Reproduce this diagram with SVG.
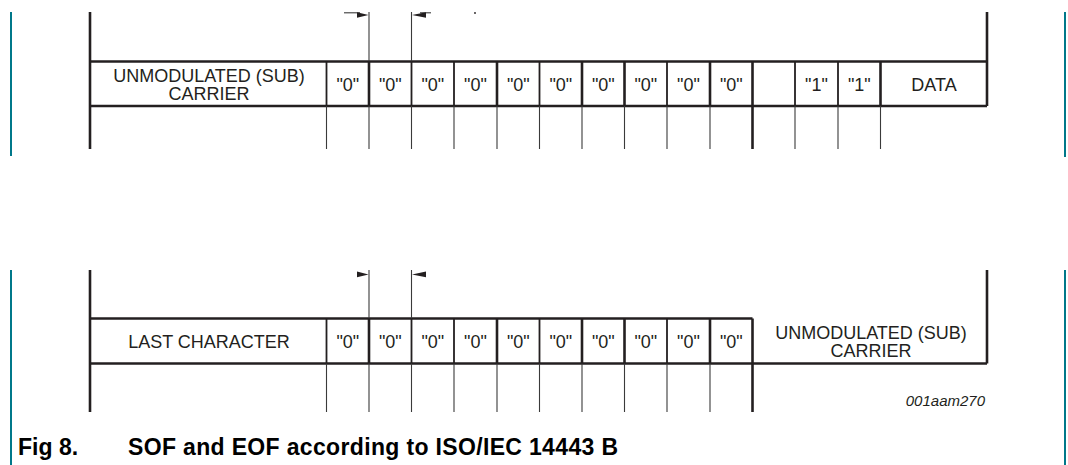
<svg xmlns="http://www.w3.org/2000/svg" width="1068" height="465" viewBox="0 0 1068 465">
<style>
.bg{fill:#ffffff}
.teal{stroke:#00788a;stroke-width:2;fill:none}
.thick{stroke:#231f20;stroke-width:2.6;fill:none}
.mid{stroke:#231f20;stroke-width:1.8;fill:none}
.thin{stroke:#3a3a3a;stroke-width:1.1;fill:none}
.lbl{font-family:"Liberation Sans",Arial,sans-serif;font-size:18px;fill:#231f20;text-anchor:middle}
.code{font-family:"Liberation Sans",Arial,sans-serif;font-size:15px;font-style:italic;fill:#231f20;text-anchor:end}
.cap{font-family:"Liberation Sans",Arial,sans-serif;font-size:23px;font-weight:bold;fill:#000}
.ah{fill:#231f20;stroke:none}
</style>
<rect class="bg" x="0" y="0" width="1068" height="465"/>
<g id="frame">
<line class="teal" x1="11" y1="12" x2="11" y2="156"/>
<line class="teal" x1="1065" y1="12" x2="1065" y2="157"/>
<line class="teal" x1="11" y1="270" x2="11" y2="465"/>
<line class="teal" x1="1065" y1="270" x2="1065" y2="465"/>
</g>
<g id="sof">
<g id="sof-grid">
<line class="thick" x1="90" y1="12" x2="90" y2="149"/>
<line class="thick" x1="987" y1="12" x2="987" y2="106"/>
<line class="thick" x1="90" y1="61.5" x2="987" y2="61.5"/>
<line class="thick" x1="90" y1="106" x2="987" y2="106"/>
<line class="thin" x1="369" y1="12" x2="369" y2="61.5"/>
<line class="thin" x1="411.5" y1="12" x2="411.5" y2="61.5"/>
<line class="mid" x1="326.5" y1="61.5" x2="326.5" y2="106"/>
<line class="thick" x1="369" y1="61.5" x2="369" y2="106"/>
<line class="mid" x1="411.5" y1="61.5" x2="411.5" y2="106"/>
<line class="mid" x1="454" y1="61.5" x2="454" y2="106"/>
<line class="thick" x1="497" y1="61.5" x2="497" y2="106"/>
<line class="mid" x1="539.5" y1="61.5" x2="539.5" y2="106"/>
<line class="thick" x1="582" y1="61.5" x2="582" y2="106"/>
<line class="thick" x1="624.5" y1="61.5" x2="624.5" y2="106"/>
<line class="mid" x1="667" y1="61.5" x2="667" y2="106"/>
<line class="thick" x1="710" y1="61.5" x2="710" y2="106"/>
<line class="thick" x1="752.5" y1="61.5" x2="752.5" y2="149"/>
<line class="mid" x1="795" y1="61.5" x2="795" y2="106"/>
<line class="mid" x1="838" y1="61.5" x2="838" y2="106"/>
<line class="thick" x1="880.5" y1="61.5" x2="880.5" y2="106"/>
<line class="thin" x1="326.5" y1="106" x2="326.5" y2="149"/>
<line class="thin" x1="369" y1="106" x2="369" y2="149"/>
<line class="thin" x1="411.5" y1="106" x2="411.5" y2="149"/>
<line class="thin" x1="454" y1="106" x2="454" y2="149"/>
<line class="thin" x1="497" y1="106" x2="497" y2="149"/>
<line class="thin" x1="539.5" y1="106" x2="539.5" y2="149"/>
<line class="thin" x1="582" y1="106" x2="582" y2="149"/>
<line class="thin" x1="624.5" y1="106" x2="624.5" y2="149"/>
<line class="thin" x1="667" y1="106" x2="667" y2="149"/>
<line class="thin" x1="710" y1="106" x2="710" y2="149"/>
<line class="thin" x1="795" y1="106" x2="795" y2="149"/>
<line class="thin" x1="838" y1="106" x2="838" y2="149"/>
<line class="thin" x1="880.5" y1="106" x2="880.5" y2="149"/>
</g>
<g id="sof-markers">
<line class="thin" x1="344" y1="12.8" x2="360" y2="12.8"/>
<polygon class="ah" points="357,12.2 368.5,15 357,17.8"/>
<line class="thin" x1="420" y1="12.8" x2="431" y2="12.8"/>
<polygon class="ah" points="426,12.2 412,15 426,17.8"/>
<circle class="ah" cx="475" cy="13" r="0.9"/>
</g>
<g id="sof-labels">
<text class="lbl" x="209" y="82">UNMODULATED (SUB)<tspan x="209" dy="17.5">CARRIER</tspan></text>
<text class="lbl" x="347.8" y="91">"0"</text>
<text class="lbl" x="390.3" y="91">"0"</text>
<text class="lbl" x="432.8" y="91">"0"</text>
<text class="lbl" x="475.5" y="91">"0"</text>
<text class="lbl" x="518.3" y="91">"0"</text>
<text class="lbl" x="560.8" y="91">"0"</text>
<text class="lbl" x="603.3" y="91">"0"</text>
<text class="lbl" x="645.8" y="91">"0"</text>
<text class="lbl" x="688.5" y="91">"0"</text>
<text class="lbl" x="731.3" y="91">"0"</text>
<text class="lbl" x="816.5" y="91">"1"</text>
<text class="lbl" x="859.3" y="91">"1"</text>
<text class="lbl" x="934" y="91">DATA</text>
</g>
</g>
<g id="eof">
<g id="eof-grid">
<line class="thick" x1="90" y1="270" x2="90" y2="412"/>
<line class="thick" x1="987" y1="270" x2="987" y2="363.5"/>
<line class="thick" x1="90" y1="318.5" x2="752.5" y2="318.5"/>
<line class="thick" x1="90" y1="363.5" x2="987" y2="363.5"/>
<line class="thin" x1="369" y1="270" x2="369" y2="318.5"/>
<line class="thin" x1="411.5" y1="270" x2="411.5" y2="318.5"/>
<line class="mid" x1="326.5" y1="318.5" x2="326.5" y2="363.5"/>
<line class="thick" x1="369" y1="318.5" x2="369" y2="363.5"/>
<line class="mid" x1="411.5" y1="318.5" x2="411.5" y2="363.5"/>
<line class="mid" x1="454" y1="318.5" x2="454" y2="363.5"/>
<line class="thick" x1="497" y1="318.5" x2="497" y2="363.5"/>
<line class="mid" x1="539.5" y1="318.5" x2="539.5" y2="363.5"/>
<line class="thick" x1="582" y1="318.5" x2="582" y2="363.5"/>
<line class="thick" x1="624.5" y1="318.5" x2="624.5" y2="363.5"/>
<line class="mid" x1="667" y1="318.5" x2="667" y2="363.5"/>
<line class="thick" x1="710" y1="318.5" x2="710" y2="363.5"/>
<line class="thick" x1="752.5" y1="318.5" x2="752.5" y2="412"/>
<line class="thin" x1="326.5" y1="363.5" x2="326.5" y2="412"/>
<line class="thin" x1="369" y1="363.5" x2="369" y2="412"/>
<line class="thin" x1="411.5" y1="363.5" x2="411.5" y2="412"/>
<line class="thin" x1="454" y1="363.5" x2="454" y2="412"/>
<line class="thin" x1="497" y1="363.5" x2="497" y2="412"/>
<line class="thin" x1="539.5" y1="363.5" x2="539.5" y2="412"/>
<line class="thin" x1="582" y1="363.5" x2="582" y2="412"/>
<line class="thin" x1="624.5" y1="363.5" x2="624.5" y2="412"/>
<line class="thin" x1="667" y1="363.5" x2="667" y2="412"/>
<line class="thin" x1="710" y1="363.5" x2="710" y2="412"/>
</g>
<g id="eof-markers">
<polygon class="ah" points="357,271.5 368.5,274.5 357,277.3"/>
<polygon class="ah" points="426,271.5 412,274.5 426,277.3"/>
</g>
<g id="eof-labels">
<text class="lbl" x="209" y="347.5">LAST CHARACTER</text>
<text class="lbl" x="347.8" y="347.5">"0"</text>
<text class="lbl" x="390.3" y="347.5">"0"</text>
<text class="lbl" x="432.8" y="347.5">"0"</text>
<text class="lbl" x="475.5" y="347.5">"0"</text>
<text class="lbl" x="518.3" y="347.5">"0"</text>
<text class="lbl" x="560.8" y="347.5">"0"</text>
<text class="lbl" x="603.3" y="347.5">"0"</text>
<text class="lbl" x="645.8" y="347.5">"0"</text>
<text class="lbl" x="688.5" y="347.5">"0"</text>
<text class="lbl" x="731.3" y="347.5">"0"</text>
<text class="lbl" x="871" y="339">UNMODULATED (SUB)<tspan x="871" dy="17.5">CARRIER</tspan></text>
<text class="code" x="985" y="406">001aam270</text>
</g>
</g>
<g id="caption">
<text class="cap" x="18" y="455">Fig 8.</text>
<text class="cap" x="128" y="455" textLength="490" lengthAdjust="spacing">SOF and EOF according to ISO/IEC 14443 B</text>
</g>
</svg>
